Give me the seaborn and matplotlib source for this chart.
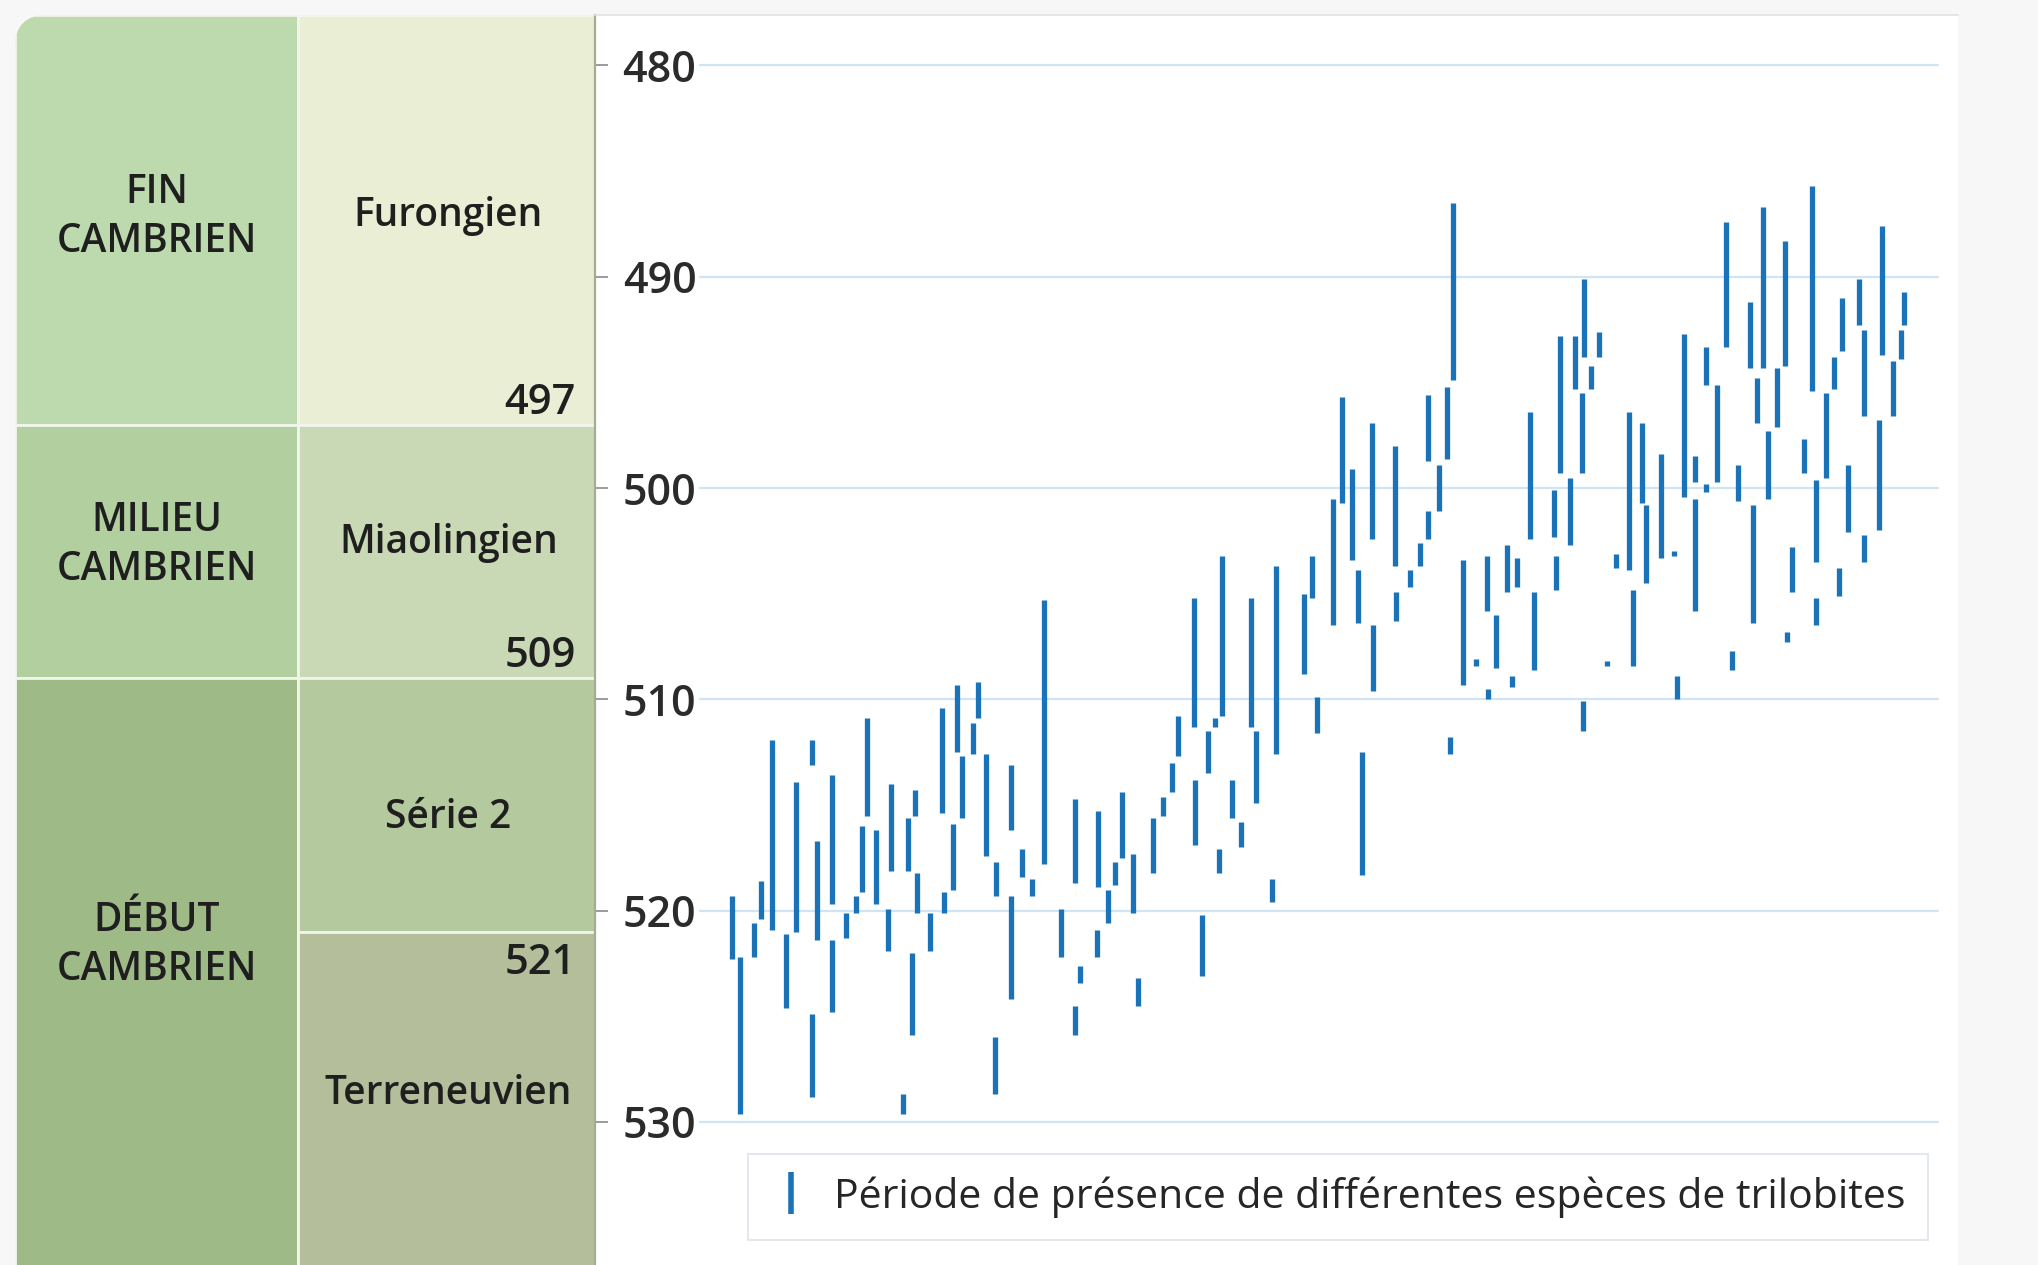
import matplotlib
matplotlib.use("Agg")

import matplotlib.pyplot as plt
import pandas as pd
import seaborn as sns
from matplotlib.lines import Line2D
from matplotlib.patches import FancyBboxPatch

# position (ordre des espèces) / âge d'apparition / âge de disparition (Ma)
position = [
    3.2, 4.0, 5.4, 6.1, 7.2, 8.6, 9.6, 11.2, 11.2, 11.7, 13.2, 13.2, 14.6, 15.6,
    16.2, 16.7, 17.6, 18.8, 19.1, 20.3, 20.8, 21.2, 21.5, 21.7,
    23.0, 24.2, 24.4, 25.3, 25.7, 26.2, 27.3, 27.8, 28.6, 29.6, 29.5, 31.1, 31.1,
    32.2, 33.2, 34.4, 36.1, 37.5, 38.0, 37.5, 39.7, 39.8, 40.8, 41.5, 42.2,
    43.3, 43.8, 45.3, 46.3, 47.2, 47.8, 49.4, 49.5, 50.2, 50.8, 51.5, 51.9, 52.2,
    53.2, 54.1, 55.1, 55.6, 57.2, 57.6, 60.4, 61.2, 61.7,
    63.3, 64.2, 65.2, 65.8, 66.2, 67.2, 67.3, 69.5, 69.6, 71.0, 72.0, 72.8, 72.8,
    73.9, 74.7, 75.0, 75.3, 76.3, 77.6, 78.7, 78.8, 79.6, 80.7, 81.2, 81.7,
    83.0, 83.4, 85.4, 85.6, 86.0, 87.0, 87.5, 88.2, 88.4, 88.3, 89.1, 89.9, 90.7,
    91.6, 92.9, 93.3, 94.2, 94.6, 96.1, 97.4, 97.7, 98.4, 99.5, 99.5, 100.6,
    100.6, 101.7, 102.6,
    103.2, 103.8, 105.0, 105.3, 105.7, 106.3, 106.8, 107.7, 108.5, 108.7, 109.2,
    110.4, 111.2, 111.6, 111.6, 112.6, 113.4, 113.9, 114.2, 114.8, 115.9, 116.4,
    116.4, 117.9, 118.2, 119.3, 120.1, 120.4,
]
age_debut = [
    522.3, 529.6, 522.2, 520.4, 520.9, 524.6, 521.0, 513.1, 528.8, 521.4, 519.7,
    524.8, 521.3, 520.1, 519.1, 515.5, 519.7, 521.9, 518.1, 529.6, 518.1, 525.9,
    515.5, 520.1,
    521.9, 515.4, 520.1, 519.0, 512.5, 515.6, 512.6, 510.9, 517.4, 519.3, 528.7,
    516.2, 524.2, 518.4, 519.3, 517.8, 522.2, 518.7, 523.4, 525.9, 522.2, 518.9,
    520.6, 518.8, 517.5,
    520.1, 524.5, 518.2, 515.5, 514.4, 512.7, 511.3, 516.9, 523.1, 513.5, 511.3,
    518.2, 510.8, 515.6, 517.0, 511.3, 514.9, 519.6, 512.6, 508.8, 505.2, 511.6,
    506.5, 500.7, 503.4, 506.4, 518.3, 502.4, 509.6, 503.7, 506.3, 504.7, 503.7,
    502.4, 498.7, 501.1, 498.6, 512.6, 494.9, 509.3, 508.4, 505.8, 510.0, 508.5,
    504.9, 509.4, 504.7,
    502.4, 508.6, 502.3, 504.8, 499.3, 502.7, 495.3, 499.3, 493.8, 511.5, 495.3,
    493.8, 508.4, 503.8, 503.9, 508.4, 500.7, 504.5, 503.3, 503.2, 510.0, 500.4,
    499.7, 505.8, 500.2, 495.1, 499.7, 493.3,
    508.6, 500.6, 494.3, 506.4, 496.9, 494.3, 500.5, 497.1, 494.2, 507.3, 504.9,
    499.3, 495.4, 503.5, 506.5, 499.5, 495.3, 505.1, 493.5, 502.1, 492.3, 496.6,
    503.5, 502.0, 493.7, 496.6, 493.9, 492.3,
]
age_fin = [
    519.3, 522.2, 520.6, 518.6, 511.9, 521.1, 513.9, 511.9, 524.9, 516.7, 513.6,
    521.4, 520.1, 519.3, 516.0, 510.9, 516.2, 519.9, 514.0, 528.7, 515.6, 522.0,
    514.3, 518.2,
    520.1, 510.4, 519.1, 515.9, 509.3, 512.7, 511.1, 509.2, 512.6, 517.7, 526.0,
    513.1, 519.3, 517.1, 518.5, 505.3, 519.9, 514.7, 522.6, 524.5, 520.9, 515.3,
    519.0, 517.7, 514.4,
    517.3, 523.2, 515.6, 514.6, 513.0, 510.8, 505.2, 513.8, 520.2, 511.5, 510.9,
    517.1, 503.2, 513.8, 515.8, 505.2, 511.5, 518.5, 503.7, 505.0, 503.2, 509.9,
    500.5, 495.7, 499.1, 503.9, 512.5, 496.9, 506.5, 498.0, 504.9, 503.9, 502.6,
    501.1, 495.6, 498.9, 495.2, 511.8, 486.5, 503.4, 508.1, 503.2, 509.5, 506.0,
    502.7, 508.9, 503.3,
    496.4, 504.9, 500.1, 503.2, 492.8, 499.5, 492.8, 495.5, 490.1, 510.1, 494.2,
    492.6, 508.2, 503.1, 496.4, 504.8, 496.9, 500.8, 498.4, 503.0, 508.9, 492.7,
    498.5, 500.5, 499.8, 493.3, 495.1, 487.4,
    507.7, 498.9, 491.2, 500.8, 494.8, 486.7, 497.3, 494.3, 488.3, 506.8, 502.8,
    497.7, 485.7, 499.6, 505.2, 495.5, 493.8, 503.8, 491.0, 498.9, 490.1, 492.5,
    502.2, 496.8, 487.6, 494.0, 492.5, 490.7,
]

# échelle chronologique
eres = ["FIN\nCAMBRIEN", "MILIEU\nCAMBRIEN", "DÉBUT\nCAMBRIEN"]
eres_limites = [(477.6, 497), (497, 509), (509, 537)]
eres_centres = [487.2, 502.7, 521.65]
eres_couleurs = ["#bdd9ae", "#b1cf9f", "#9dba87"]
series = ["Furongien", "Miaolingien", "Série 2", "Terreneuvien"]
series_limites = [(477.6, 497), (497, 509), (509, 521), (521, 537)]
series_centres = [487.1, 502.6, 515.6, 528.7]
series_couleurs = ["#e9eed5", "#c9d8b5", "#b5c99f", "#b4be9b"]
limites_ages = [497, 509, 521]
graduations = [480, 490, 500, 510, 520, 530]
legende = "Période de présence de différentes espèces de trilobites"

BLUE = "#1a72b9"
TXT = "#1f1f1f"

sns.set_theme(style="white")
plt.rcParams["font.family"] = ["Open Sans", "DejaVu Sans"]

fig = plt.figure(figsize=(20.38, 12.65), dpi=100, facecolor="#f7f7f7")
ylim = (536.77, 477.61)

# tableau des étages
ax_tab = fig.add_axes([15 / 2038, 0, 580 / 2038, 1250 / 1265])
ax_tab.set_ylim(*ylim)
ax_tab.set_xlim(0, 1)
ax_tab.axis("off")
clip = FancyBboxPatch((0, -0.1), 1.3, 1.1, boxstyle="round,pad=0,rounding_size=0.055",
                      mutation_aspect=580 / 1250, transform=ax_tab.transAxes,
                      facecolor="none", edgecolor="none")
ax_tab.add_patch(clip)
split = 0.488
for (lo, hi), col in zip(eres_limites, eres_couleurs):
    p = ax_tab.axhspan(lo, hi, 0, split, facecolor=col, edgecolor="#f2f5ec", lw=2)
    p.set_clip_path(clip)
for (lo, hi), col in zip(series_limites, series_couleurs):
    p = ax_tab.axhspan(lo, hi, split, 1, facecolor=col, edgecolor="#f2f5ec", lw=2)
    p.set_clip_path(clip)

for label, y in zip(eres, eres_centres):
    ax_tab.text(0.245, y, label, ha="center", va="center", fontsize=28, color=TXT,
                linespacing=1.3, fontweight="semibold")
for label, y in zip(series, series_centres):
    ax_tab.text(0.747, y, label, ha="center", va="center", fontsize=28, color=TXT,
                fontweight="semibold")
for age, off in zip(limites_ages, [-1.05, -1.05, 1.5]):
    ax_tab.text(0.967, age + off, str(age), ha="right", va="center", fontsize=30,
                color=TXT, fontweight="semibold")

# graphique des espèces
ax = fig.add_axes([595 / 2038, 0, 1363 / 2038, 1250 / 1265], facecolor="white")
df = pd.DataFrame({
    "espece": list(range(len(position))) * 2,
    "position": position * 2,
    "age": age_debut + age_fin,
})
for y in graduations:
    ax.axhline(y, xmin=0.077, xmax=0.985, color="#cfe4f4", lw=1.6, zorder=0)
sns.lineplot(data=df, x="position", y="age", units="espece", estimator=None,
             sort=False, color=BLUE, lw=3.8, solid_capstyle="butt", legend=False,
             ax=ax, zorder=3)
ax.set_xlim(-10.5, 125.8)
ax.set_ylim(*ylim)
ax.set_yticks(graduations)
ax.set_xticks([])
ax.set_xlabel("")
ax.set_ylabel("")
ax.tick_params(axis="y", direction="in", length=9, width=1.2, color="#8a8a8a",
               pad=-73, labelsize=31, labelcolor="#2b2b2b", left=True)
for t in ax.get_yticklabels():
    t.set_fontweight("semibold")
for side in ["right", "bottom"]:
    ax.spines[side].set_visible(False)
ax.spines["top"].set_color("#e2e2e2")
ax.spines["top"].set_linewidth(1.2)
ax.spines["left"].set_color("#a4ad94")
ax.spines["left"].set_linewidth(1.6)

handle = Line2D([], [], color=BLUE, lw=0, marker="|", markersize=30, mew=4)
leg = ax.legend([handle], [legende], loc="center", bbox_to_anchor=(0.545, 0.0544),
                frameon=True, fancybox=False, edgecolor="#e4e8ee", framealpha=1,
                borderpad=0.55, handlelength=1.0, handletextpad=0.55,
                prop={"family": ["Open Sans", "DejaVu Sans"], "size": 29.5})
leg.get_frame().set_linewidth(1.5)

fig.savefig("out.png", dpi=100, facecolor=fig.get_facecolor())
